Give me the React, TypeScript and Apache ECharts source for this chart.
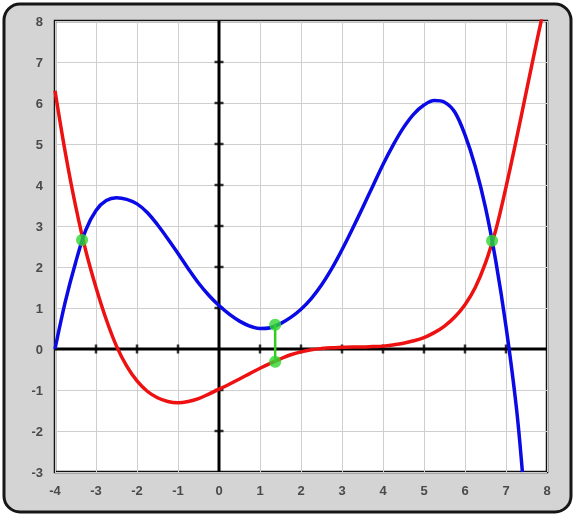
import { useEffect, useRef } from "react";
import * as echarts from "echarts";

// Axis ranges and tick labels
const xMin = -4;
const xMax = 8;
const yMin = -3;
const yMax = 8;
const xTickValues = [-3, -2, -1, 1, 2, 3, 4, 5, 6, 7];
const yTickValues = [-2, -1, 1, 2, 3, 4, 5, 6, 7];

// Blue curve samples
const blueX = [-4, -3.75, -3.5, -3.25, -3, -2.75, -2.5, -2.25, -2, -1.75, -1.5, -1.25, -1, -0.75, -0.5, -0.25, 0, 0.25, 0.5, 0.75, 1, 1.25, 1.5, 1.75, 2, 2.25, 2.5, 2.75, 3, 3.25, 3.5, 3.75, 4, 4.25, 4.5, 4.75, 5, 5.25, 5.5, 5.75, 6, 6.25, 6.5, 6.75, 7, 7.25, 7.4];
const blueY = [0, 1.15, 2.1, 2.9, 3.38, 3.62, 3.69, 3.65, 3.54, 3.33, 3.03, 2.69, 2.33, 1.96, 1.61, 1.31, 1.06, 0.85, 0.68, 0.56, 0.5, 0.52, 0.62, 0.77, 0.97, 1.23, 1.56, 1.96, 2.42, 2.92, 3.44, 3.97, 4.5, 4.98, 5.4, 5.73, 5.95, 6.06, 6.02, 5.78, 5.22, 4.45, 3.45, 2.15, 0.55, -1.4, -3.0];

// Red curve samples
const redX = [-4, -3.75, -3.5, -3.25, -3, -2.75, -2.5, -2.25, -2, -1.75, -1.5, -1.25, -1, -0.75, -0.5, -0.25, 0, 0.25, 0.5, 0.75, 1, 1.25, 1.5, 1.75, 2, 2.25, 2.5, 2.75, 3, 3.25, 3.5, 3.75, 4, 4.25, 4.5, 4.75, 5, 5.25, 5.5, 5.75, 6, 6.25, 6.5, 6.75, 7, 7.25, 7.5, 7.75, 7.87];
const redY = [6.3, 4.8, 3.5, 2.4, 1.5, 0.72, 0.07, -0.42, -0.78, -1.03, -1.19, -1.28, -1.31, -1.28, -1.21, -1.1, -0.98, -0.86, -0.73, -0.6, -0.47, -0.35, -0.24, -0.14, -0.07, -0.02, 0.01, 0.03, 0.04, 0.05, 0.05, 0.06, 0.07, 0.1, 0.14, 0.2, 0.28, 0.4, 0.56, 0.78, 1.08, 1.5, 2.1, 2.9, 3.95, 5.1, 6.3, 7.5, 8.05];

// Highlighted intersection points and the gap segment
const markX = [-3.34, 6.66, 1.37, 1.37];
const markY = [2.66, 2.64, 0.59, -0.31];
const gapX = [1.37, 1.37];
const gapY = [0.59, -0.31];

const zip = (xs: number[], ys: number[]) => xs.map((x, i) => [x, ys[i]]);

export default function App() {
  const ref = useRef<HTMLDivElement>(null);

  useEffect(() => {
    if (!ref.current) return;
    const chart = echarts.init(ref.current, undefined, { renderer: "svg" });
    const labelStyle = {
      color: "#4a4a4a",
      fontSize: 13,
      fontWeight: "bold",
      fontFamily: "Liberation Sans, Arial, sans-serif",
    };
    chart.setOption({
      animation: false,
      graphic: [
        {
          type: "rect",
          z: -10,
          shape: { x: 4, y: 4, width: 567, height: 508, r: 16 },
          style: { fill: "#d4d4d4", stroke: "#161616", lineWidth: 3 },
        },
      ],
      grid: {
        left: 55,
        top: 21,
        right: 28,
        bottom: 45,
        show: true,
        backgroundColor: "#ffffff",
        borderColor: "#111111",
        borderWidth: 2.5,
      },
      xAxis: {
        type: "value",
        min: xMin,
        max: xMax,
        interval: 1,
        axisLine: { show: false },
        axisTick: { show: false },
        axisLabel: { ...labelStyle, margin: 12 },
        splitLine: { show: true, lineStyle: { color: "#cfcfcf", width: 1 } },
      },
      yAxis: {
        type: "value",
        min: yMin,
        max: yMax,
        interval: 1,
        axisLine: { show: false },
        axisTick: { show: false },
        axisLabel: { ...labelStyle, margin: 12 },
        splitLine: { show: true, lineStyle: { color: "#cfcfcf", width: 1 } },
      },
      series: [
        {
          type: "line",
          data: [[xMin, 0], [xMax, 0]],
          symbol: "none",
          silent: true,
          lineStyle: { color: "#000000", width: 3 },
          z: 1,
        },
        {
          type: "line",
          data: [[0, yMin], [0, yMax]],
          symbol: "none",
          silent: true,
          lineStyle: { color: "#000000", width: 3 },
          z: 1,
        },
        {
          type: "scatter",
          data: xTickValues.map((v) => [v, 0]),
          symbol: "rect",
          symbolSize: [2.5, 9],
          itemStyle: { color: "#000000" },
          silent: true,
          z: 1,
        },
        {
          type: "scatter",
          data: yTickValues.map((v) => [0, v]),
          symbol: "rect",
          symbolSize: [9, 2.5],
          itemStyle: { color: "#000000" },
          silent: true,
          z: 1,
        },
        {
          type: "line",
          data: zip(redX, redY),
          smooth: 0.35,
          symbol: "none",
          lineStyle: { color: "#ee1111", width: 3.5 },
          z: 3,
        },
        {
          type: "line",
          data: zip(blueX, blueY),
          smooth: 0.35,
          symbol: "none",
          lineStyle: { color: "#0a0ae6", width: 3.5 },
          z: 3,
        },
        {
          type: "line",
          data: zip(gapX, gapY),
          symbol: "none",
          lineStyle: { color: "#33cc22", width: 2.5 },
          z: 4,
        },
        {
          type: "scatter",
          data: zip(markX, markY),
          symbol: "circle",
          symbolSize: 12,
          itemStyle: { color: "#2ed62e" },
          z: 5,
        },
      ],
    });
    return () => chart.dispose();
  }, []);

  return (
    <div
      ref={ref}
      style={{ position: "fixed", left: 0, top: 0, width: 575, height: 517 }}
    />
  );
}
